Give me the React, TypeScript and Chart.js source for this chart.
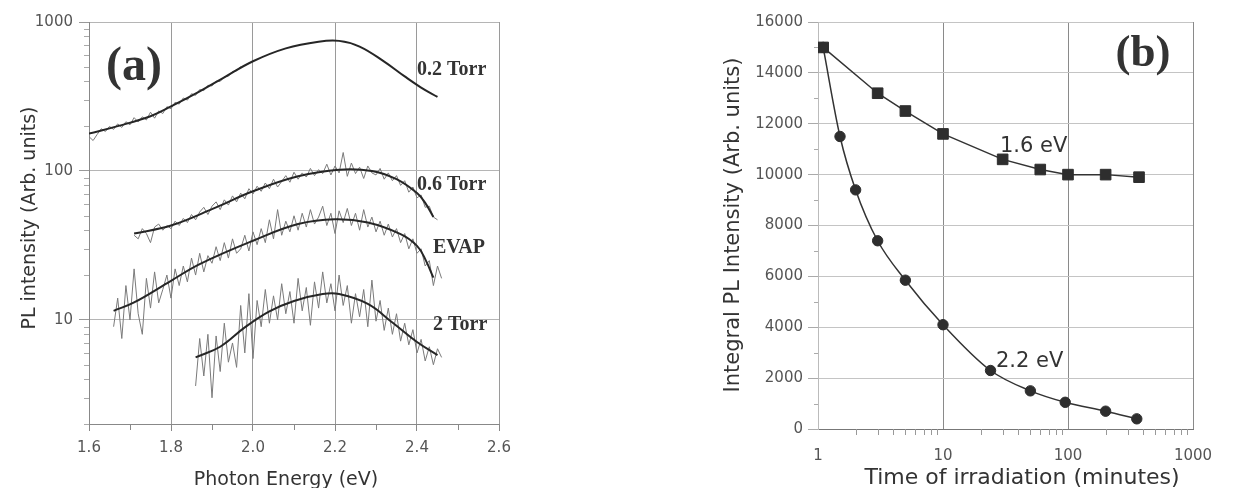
import { useEffect, useRef } from "react";
import { Chart, registerables } from "chart.js";

Chart.register(...registerables);

// ---------------- Panel (a): PL spectra ----------------
const energyStep = 0.01;

// measured (noisy) spectra, sampled every 0.01 eV from the start energy
const noise02Start = 1.6;
const noise02 = [170, 160, 176, 192, 184, 199, 190, 207, 196, 214, 204, 228, 213, 231, 220, 248, 226, 253, 243, 270, 262, 289, 281, 309, 299, 330, 322, 352, 346, 376, 372, 401, 399, 428, 432, 465, 470, 503];

const noise06Start = 1.71;
const noise06 = [37, 35, 41, 38, 33, 42, 44, 40, 43, 41, 46, 43, 48, 45, 51, 47, 53, 57, 51, 58, 62, 55, 64, 59, 68, 62, 71, 65, 76, 70, 79, 73, 83, 76, 88, 78, 85, 93, 84, 98, 88, 97, 91, 104, 93, 102, 96, 111, 94, 108, 97, 133, 92, 113, 96, 106, 89, 108, 97, 94, 104, 88, 97, 86, 93, 80, 86, 72, 78, 66, 69, 57, 58, 49, 47];

const noiseEvapStart = 1.66;
const noiseEvap = [9, 14, 7.5, 17, 10, 22, 11, 8, 19, 12, 21, 13, 16, 20, 14, 22, 17, 23, 18, 26, 20, 28, 21, 27, 24, 31, 25, 33, 26, 35, 28, 30, 37, 29, 39, 32, 41, 33, 47, 35, 55, 37, 46, 39, 50, 40, 52, 42, 55, 44, 49, 58, 43, 52, 38, 54, 45, 56, 43, 52, 40, 55, 42, 49, 39, 46, 37, 44, 36, 41, 33, 38, 30, 35, 28, 30, 23, 25, 17, 23, 19];

const noise2Start = 1.86;
const noise2 = [3.6, 7.5, 4.2, 8.0, 3.0, 7.8, 4.5, 9.5, 5.2, 7.0, 4.8, 12.5, 6.0, 15.0, 5.5, 13.5, 9.0, 16.0, 9.5, 14.5, 10.0, 17.5, 11.0, 15.5, 9.5, 19.0, 11.5, 16.5, 9.2, 18.0, 12.0, 21.0, 13.0, 17.5, 11.5, 20.0, 12.5, 17.0, 9.5, 15.0, 10.5, 16.0, 9.0, 18.5, 9.8, 13.5, 8.5, 12.0, 8.0, 11.0, 7.2, 9.5, 6.8, 8.6, 6.0, 7.4, 5.3, 6.6, 5.0, 6.4, 5.6];

// smooth fitted curves
const fit02E = [1.6, 1.67, 1.75, 1.8, 1.87, 1.93, 2.0, 2.08, 2.16, 2.21, 2.26, 2.32, 2.37, 2.41, 2.45];
const fit02V = [178, 200, 233, 271, 342, 425, 545, 665, 738, 747, 684, 542, 431, 363, 314];

const fit06E = [1.71, 1.8, 1.91, 2.0, 2.11, 2.21, 2.29, 2.35, 2.4, 2.42, 2.44];
const fit06V = [38, 43, 57, 73, 92, 102, 100, 88, 71, 61, 49];

const fitEvapE = [1.66, 1.71, 1.8, 1.87, 2.0, 2.11, 2.2, 2.28, 2.36, 2.4, 2.42, 2.44];
const fitEvapV = [11.5, 13.1, 18.3, 23.7, 34, 44, 47.4, 45, 37.6, 31.4, 25.6, 19.2];

const fit2E = [1.86, 1.92, 1.98, 2.04, 2.1, 2.17, 2.21, 2.28, 2.34, 2.4, 2.45];
const fit2V = [5.6, 6.6, 8.9, 11.4, 13.4, 14.9, 14.9, 12.8, 9.6, 7.1, 5.8];

const yDecadesA = [10, 100, 1000];
const yTicksA = [2, 3, 4, 5, 6, 7, 8, 9, 10, 20, 30, 40, 50, 60, 70, 80, 90, 100, 200, 300, 400, 500, 600, 700, 800, 900, 1000];

// ---------------- Panel (b): integral PL vs time ----------------
const time16 = [1.1, 3, 5, 10, 30, 60, 100, 200, 370];
const pl16 = [15000, 13200, 12500, 11600, 10600, 10200, 10000, 10000, 9900];

const time22 = [1.1, 1.5, 2, 3, 5, 10, 24, 50, 95, 200, 355];
const pl22 = [15000, 11500, 9400, 7400, 5850, 4100, 2300, 1500, 1050, 700, 400];

const xDecadesB = [1, 10, 100, 1000];
const xTicksB = [1, 2, 3, 4, 5, 6, 7, 8, 9, 10, 20, 30, 40, 50, 60, 70, 80, 90, 100, 200, 300, 400, 500, 600, 700, 800, 900, 1000];

// ---------------- helpers ----------------
const SANS = '"DejaVu Sans", "Liberation Sans", sans-serif';
const SERIF = '"Liberation Serif", "DejaVu Serif", serif';

const sampled = (start: number, vals: number[]) =>
  vals.map((v, i) => ({ x: Math.round((start + i * energyStep) * 100) / 100, y: v }));
const zip = (xs: number[], ys: number[]) => xs.map((x, i) => ({ x, y: ys[i] }));

const isMajorE = (v: number) => Math.round(v * 10) % 2 === 0;
const isDecade = (v: number) => Math.abs(Math.log10(v) - Math.round(Math.log10(v))) < 1e-9;

type TextItem = {
  text: string;
  x: number;
  y: number;
  font: string;
  color?: string;
  align?: CanvasTextAlign;
  baseline?: CanvasTextBaseline;
  rotate?: boolean;
};

const textPlugin = (items: TextItem[]) => ({
  id: "texts",
  afterDraw(chart: any) {
    const ctx = chart.ctx as CanvasRenderingContext2D;
    for (const t of items) {
      ctx.save();
      ctx.font = t.font;
      ctx.fillStyle = t.color || "#2a2a2a";
      ctx.textAlign = t.align || "left";
      ctx.textBaseline = t.baseline || "alphabetic";
      if (t.rotate) {
        ctx.translate(t.x, t.y);
        ctx.rotate(-Math.PI / 2);
        ctx.fillText(t.text, 0, 0);
      } else {
        ctx.fillText(t.text, t.x, t.y);
      }
      ctx.restore();
    }
  },
});

const minorTickPlugin = (cfg: { axis: string; isMajor: (v: number) => boolean; len: number; color: string }[]) => ({
  id: "minorTicks",
  afterDraw(chart: any) {
    const ctx = chart.ctx as CanvasRenderingContext2D;
    ctx.save();
    for (const c of cfg) {
      const scale = chart.scales[c.axis];
      if (!scale) continue;
      ctx.strokeStyle = c.color;
      ctx.lineWidth = 1;
      for (const t of scale.ticks) {
        if (c.isMajor(t.value)) continue;
        const p = Math.round(scale.getPixelForValue(t.value)) + 0.5;
        ctx.beginPath();
        if (scale.isHorizontal()) {
          ctx.moveTo(p, scale.top);
          ctx.lineTo(p, scale.top + c.len);
        } else {
          ctx.moveTo(scale.right - c.len, p);
          ctx.lineTo(scale.right, p);
        }
        ctx.stroke();
      }
    }
    ctx.restore();
  },
});

const noiseDs = (data: { x: number; y: number }[]) => ({
  data,
  borderColor: "#7a7a7a",
  borderWidth: 1,
  pointRadius: 0,
  tension: 0,
  order: 2,
});
const fitDs = (data: { x: number; y: number }[]) => ({
  data,
  borderColor: "#262626",
  borderWidth: 2,
  pointRadius: 0,
  tension: 0.4,
  order: 1,
});

function PanelA() {
  const ref = useRef<HTMLCanvasElement>(null);
  useEffect(() => {
    if (!ref.current) return;
    const chart = new Chart(ref.current, {
      type: "line",
      data: {
        datasets: [
          noiseDs(sampled(noise02Start, noise02)),
          noiseDs(sampled(noise06Start, noise06)),
          noiseDs(sampled(noiseEvapStart, noiseEvap)),
          noiseDs(sampled(noise2Start, noise2)),
          fitDs(zip(fit02E, fit02V)),
          fitDs(zip(fit06E, fit06V)),
          fitDs(zip(fitEvapE, fitEvapV)),
          fitDs(zip(fit2E, fit2V)),
        ] as any,
      },
      options: {
        animation: false,
        responsive: false,
        layout: { padding: { top: 22, right: 41, left: 0, bottom: 0 } },
        plugins: { legend: { display: false }, tooltip: { enabled: false } },
        scales: {
          x: {
            type: "linear",
            min: 1.6,
            max: 2.6,
            ticks: {
              stepSize: 0.1,
              autoSkip: false,
              maxRotation: 0,
              padding: 8,
              color: "#555",
              font: { family: SANS, size: 15 },
              callback: (v: any) => (isMajorE(Number(v)) ? Number(v).toFixed(1) : ""),
            },
            grid: {
              color: (c: any) => (c.tick && isMajorE(c.tick.value) ? "#9a9a9a" : "transparent"),
              tickColor: (c: any) => (c.tick && isMajorE(c.tick.value) ? "#888" : "transparent"),
              tickLength: 7,
            },
            border: { color: "#888" },
            afterFit: (s: any) => {
              s.height = 64;
            },
          },
          y: {
            type: "logarithmic",
            min: 2,
            max: 1000,
            afterBuildTicks: (s: any) => {
              s.ticks = yTicksA.map((v) => ({ value: v }));
            },
            ticks: {
              autoSkip: false,
              padding: 6,
              color: "#555",
              font: { family: SANS, size: 15 },
              callback: (v: any) => (yDecadesA.includes(Number(v)) ? String(v) : ""),
            },
            grid: {
              color: (c: any) => (c.tick && isDecade(c.tick.value) ? "#b5b5b5" : "transparent"),
              tickColor: (c: any) => (c.tick && isDecade(c.tick.value) ? "#999" : "transparent"),
              tickLength: 10,
            },
            border: { color: "#888" },
            afterFit: (s: any) => {
              s.width = 89;
            },
          },
        },
      },
      plugins: [
        minorTickPlugin([
          { axis: "x", isMajor: isMajorE, len: 6, color: "#888" },
          { axis: "y", isMajor: isDecade, len: 5, color: "#aaa" },
        ]),
        textPlugin([
          { text: "(a)", x: 134, y: 80, font: `bold 48px ${SERIF}`, align: "center", color: "#333" },
          { text: "0.2 Torr", x: 417, y: 75, font: `bold 20px ${SERIF}`, color: "#333" },
          { text: "0.6 Torr", x: 417, y: 190, font: `bold 20px ${SERIF}`, color: "#333" },
          { text: "EVAP", x: 433, y: 253, font: `bold 20px ${SERIF}`, color: "#333" },
          { text: "2 Torr", x: 433, y: 330, font: `bold 20px ${SERIF}`, color: "#333" },
          { text: "PL intensity (Arb. units)", x: 30, y: 218, font: `19px ${SANS}`, align: "center", baseline: "middle", rotate: true, color: "#333" },
          { text: "Photon Energy (eV)", x: 286, y: 485, font: `19px ${SANS}`, align: "center", color: "#333" },
        ]) as any,
      ],
    });
    return () => chart.destroy();
  }, []);
  return <canvas ref={ref} width={540} height={488} style={{ position: "absolute", left: 0, top: 0, display: "block" }} />;
}

function PanelB() {
  const ref = useRef<HTMLCanvasElement>(null);
  useEffect(() => {
    if (!ref.current) return;
    const chart = new Chart(ref.current, {
      type: "line",
      data: {
        datasets: [
          {
            data: zip(time16, pl16),
            borderColor: "#333",
            borderWidth: 1.5,
            pointStyle: "rect",
            pointRadius: 7.5,
            pointBackgroundColor: "#2e2e2e",
            pointBorderColor: "#2e2e2e",
            pointBorderWidth: 1,
            tension: 0,
          },
          {
            data: zip(time22, pl22),
            borderColor: "#333",
            borderWidth: 1.5,
            pointStyle: "circle",
            pointRadius: 5.2,
            pointBackgroundColor: "#2e2e2e",
            pointBorderColor: "#2e2e2e",
            pointBorderWidth: 1,
            cubicInterpolationMode: "monotone",
          },
        ] as any,
      },
      options: {
        animation: false,
        responsive: false,
        layout: { padding: { top: 22, right: 63, left: 0, bottom: 0 } },
        plugins: { legend: { display: false }, tooltip: { enabled: false } },
        scales: {
          x: {
            type: "logarithmic",
            min: 1,
            max: 1000,
            afterBuildTicks: (s: any) => {
              s.ticks = xTicksB.map((v) => ({ value: v }));
            },
            ticks: {
              autoSkip: false,
              maxRotation: 0,
              padding: 12,
              color: "#555",
              font: { family: SANS, size: 15 },
              callback: (v: any) => (xDecadesB.includes(Number(v)) ? String(v) : ""),
            },
            grid: {
              color: (c: any) => (c.tick && isDecade(c.tick.value) ? "#8a8a8a" : "transparent"),
              tickColor: "transparent",
              tickLength: 6,
            },
            border: { color: "#777" },
            afterFit: (s: any) => {
              s.height = 59;
            },
          },
          y: {
            type: "linear",
            min: 0,
            max: 16000,
            ticks: {
              stepSize: 1000,
              autoSkip: false,
              padding: 5,
              color: "#555",
              font: { family: SANS, size: 15 },
              callback: (v: any) => (Number(v) % 2000 === 0 ? String(v) : ""),
            },
            grid: {
              color: (c: any) => (c.tick && c.tick.value % 2000 === 0 ? "#c4c4c4" : "transparent"),
              tickColor: (c: any) => (c.tick && c.tick.value % 2000 === 0 ? "#aaa" : "transparent"),
              tickLength: 10,
            },
            border: { color: "#bbb" },
            afterFit: (s: any) => {
              s.width = 128;
            },
          },
        },
      },
      plugins: [
        minorTickPlugin([
          { axis: "x", isMajor: isDecade, len: 6, color: "#999" },
          { axis: "y", isMajor: (v: number) => v % 2000 === 0, len: 4, color: "#aaa" },
        ]),
        textPlugin([
          { text: "(b)", x: 453, y: 66, font: `bold 45px ${SERIF}`, align: "center", color: "#333" },
          { text: "1.6 eV", x: 310, y: 152, font: `21px ${SANS}`, color: "#333" },
          { text: "2.2 eV", x: 306, y: 367, font: `21px ${SANS}`, color: "#333" },
          { text: "Integral PL Intensity (Arb. units)", x: 44, y: 225, font: `21px ${SANS}`, align: "center", baseline: "middle", rotate: true, color: "#333" },
          { text: "Time of irradiation (minutes)", x: 332, y: 484, font: `22px ${SANS}`, align: "center", color: "#333" },
        ]) as any,
      ],
    });
    return () => chart.destroy();
  }, []);
  return <canvas ref={ref} width={566} height={488} style={{ position: "absolute", left: 690, top: 0, display: "block" }} />;
}

export default function App() {
  return (
    <div style={{ position: "fixed", left: 0, top: 0, width: 1256, height: 488, background: "#fff", overflow: "hidden" }}>
      <PanelA />
      <PanelB />
    </div>
  );
}
